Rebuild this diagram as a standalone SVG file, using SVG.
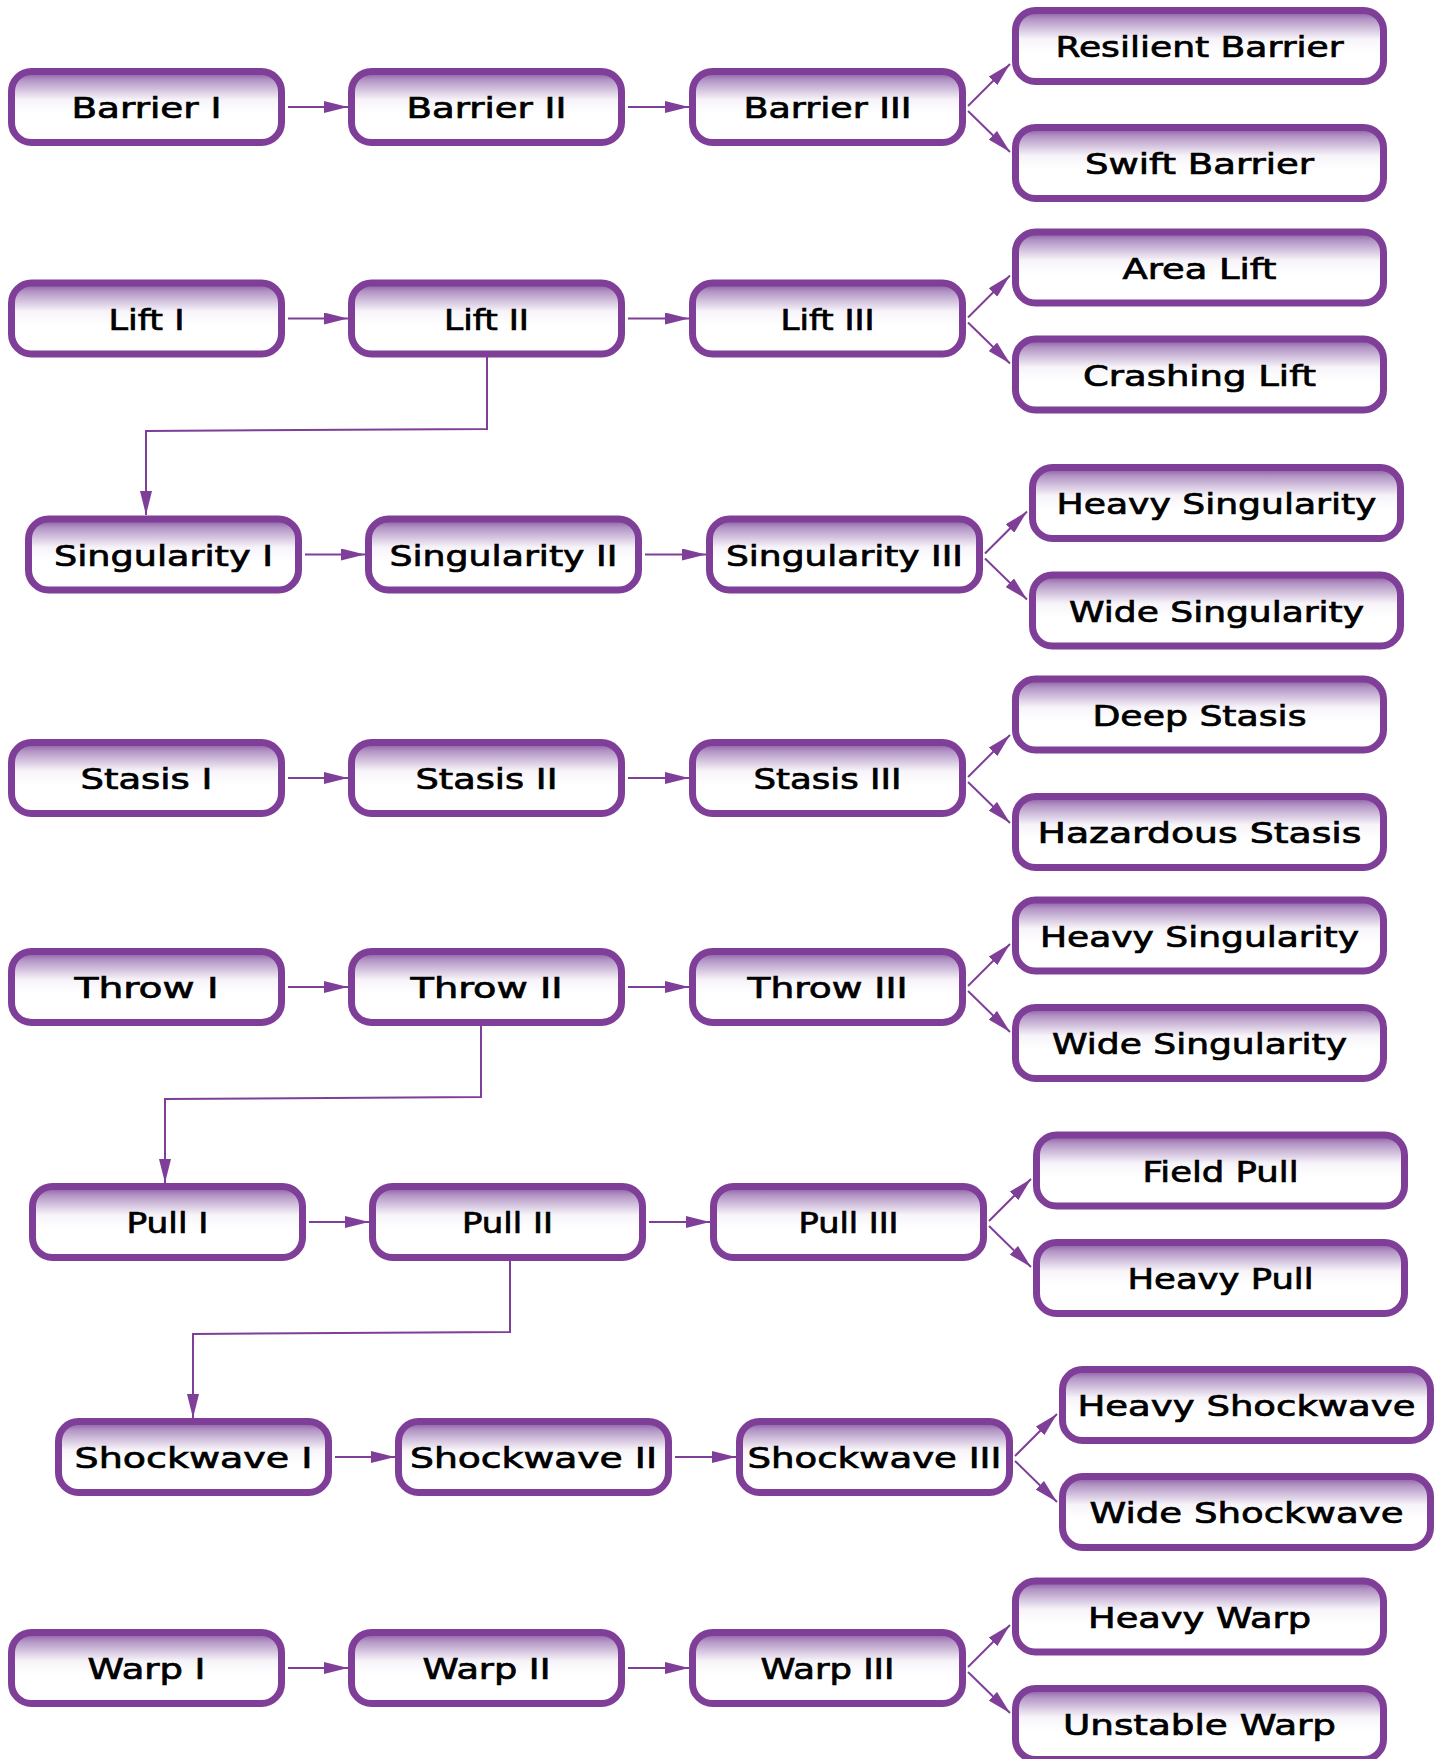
<svg xmlns="http://www.w3.org/2000/svg" width="1442" height="1759" viewBox="0 0 1442 1759">
<defs>
<linearGradient id="g" x1="0" y1="0" x2="0" y2="1">
<stop offset="0" stop-color="#86509f"/>
<stop offset="0.12" stop-color="#b294c4"/>
<stop offset="0.4" stop-color="#f7f4f9"/>
<stop offset="0.6" stop-color="#ffffff"/>
<stop offset="1" stop-color="#ffffff"/>
</linearGradient>
<marker id="ah" markerUnits="userSpaceOnUse" markerWidth="24" markerHeight="12" refX="24" refY="6" orient="auto">
<path d="M0,0 L24,6 L0,12 z" fill="#7f3f98"/>
</marker>
</defs>
<style>
rect.n{fill:url(#g);stroke:#7f3f98;stroke-width:7}
text{font-family:"DejaVu Sans","Liberation Sans",sans-serif;font-weight:normal;font-size:28px;fill:#000;stroke:#000;stroke-width:0.7;text-anchor:middle}
#edges path{fill:none;stroke:#7f3f98;stroke-width:2;marker-end:url(#ah)}
</style>
<rect width="1442" height="1759" fill="#ffffff"/>
<g id="edges">
<path d="M288,107 L348,107"/><path d="M628,107 L689,107"/><path d="M968,106 L1010,64"/><path d="M968,111 L1010,152"/>
<path d="M288,318.5 L348,318.5"/><path d="M628,318.5 L689,318.5"/><path d="M968,317.5 L1010,275.5"/><path d="M968,322.5 L1010,363.5"/>
<path d="M487,357 L487,429 L146,431 L146,515"/>
<path d="M305,554.5 L365,554.5"/><path d="M645,554.5 L706,554.5"/><path d="M985,553.5 L1027,511.5"/><path d="M985,558.5 L1027,599.5"/>
<path d="M288,778 L348,778"/><path d="M628,778 L689,778"/><path d="M968,777 L1010,735"/><path d="M968,782 L1010,823"/>
<path d="M288,987 L348,987"/><path d="M628,987 L689,987"/><path d="M968,986 L1010,944"/><path d="M968,991 L1010,1032"/>
<path d="M481,1026 L481,1097 L165,1099 L165,1183"/>
<path d="M309,1222 L369,1222"/><path d="M649,1222 L710,1222"/><path d="M989,1221 L1031,1179"/><path d="M989,1226 L1031,1267"/>
<path d="M510,1261 L510,1332 L193,1334 L193,1418"/>
<path d="M335,1457 L395,1457"/><path d="M675,1457 L736,1457"/><path d="M1015,1456 L1057,1414"/><path d="M1015,1461 L1057,1502"/>
<path d="M288,1668 L348,1668"/><path d="M628,1668 L689,1668"/><path d="M968,1667 L1010,1625"/><path d="M968,1672 L1010,1713"/>
</g>
<g id="barrier1"><rect class="n" x="11.5" y="71.5" width="270" height="71" rx="20"/><text x="146.5" y="118" textLength="150" lengthAdjust="spacingAndGlyphs">Barrier I</text></g>
<g id="barrier2"><rect class="n" x="351.5" y="71.5" width="270" height="71" rx="20"/><text x="486.5" y="118" textLength="160" lengthAdjust="spacingAndGlyphs">Barrier II</text></g>
<g id="barrier3"><rect class="n" x="692.5" y="71.5" width="270" height="71" rx="20"/><text x="827.5" y="118" textLength="168" lengthAdjust="spacingAndGlyphs">Barrier III</text></g>
<g id="resilient-barrier"><rect class="n" x="1015.5" y="10.5" width="368" height="71" rx="20"/><text x="1199.5" y="57" textLength="288" lengthAdjust="spacingAndGlyphs">Resilient Barrier</text></g>
<g id="swift-barrier"><rect class="n" x="1015.5" y="127.5" width="368" height="71" rx="20"/><text x="1199.5" y="174" textLength="229" lengthAdjust="spacingAndGlyphs">Swift Barrier</text></g>
<g id="lift1"><rect class="n" x="11.5" y="283" width="270" height="71" rx="20"/><text x="146.5" y="329.5" textLength="76" lengthAdjust="spacingAndGlyphs">Lift I</text></g>
<g id="lift2"><rect class="n" x="351.5" y="283" width="270" height="71" rx="20"/><text x="486.5" y="329.5" textLength="85" lengthAdjust="spacingAndGlyphs">Lift II</text></g>
<g id="lift3"><rect class="n" x="692.5" y="283" width="270" height="71" rx="20"/><text x="827.5" y="329.5" textLength="94" lengthAdjust="spacingAndGlyphs">Lift III</text></g>
<g id="area-lift"><rect class="n" x="1015.5" y="232" width="368" height="71" rx="20"/><text x="1199.5" y="278.5" textLength="154" lengthAdjust="spacingAndGlyphs">Area Lift</text></g>
<g id="crashing-lift"><rect class="n" x="1015.5" y="339" width="368" height="71" rx="20"/><text x="1199.5" y="385.5" textLength="233" lengthAdjust="spacingAndGlyphs">Crashing Lift</text></g>
<g id="singularity1"><rect class="n" x="28.5" y="519" width="270" height="71" rx="20"/><text x="163.5" y="565.5" textLength="219" lengthAdjust="spacingAndGlyphs">Singularity I</text></g>
<g id="singularity2"><rect class="n" x="368.5" y="519" width="270" height="71" rx="20"/><text x="503.5" y="565.5" textLength="228" lengthAdjust="spacingAndGlyphs">Singularity II</text></g>
<g id="singularity3"><rect class="n" x="709.5" y="519" width="270" height="71" rx="20"/><text x="844.5" y="565.5" textLength="237" lengthAdjust="spacingAndGlyphs">Singularity III</text></g>
<g id="heavy-singularity-a"><rect class="n" x="1032.5" y="467.5" width="368" height="71" rx="20"/><text x="1216.5" y="514" textLength="320" lengthAdjust="spacingAndGlyphs">Heavy Singularity</text></g>
<g id="wide-singularity-a"><rect class="n" x="1032.5" y="575" width="368" height="71" rx="20"/><text x="1216.5" y="621.5" textLength="295" lengthAdjust="spacingAndGlyphs">Wide Singularity</text></g>
<g id="stasis1"><rect class="n" x="11.5" y="742.5" width="270" height="71" rx="20"/><text x="146.5" y="789" textLength="132" lengthAdjust="spacingAndGlyphs">Stasis I</text></g>
<g id="stasis2"><rect class="n" x="351.5" y="742.5" width="270" height="71" rx="20"/><text x="486.5" y="789" textLength="142" lengthAdjust="spacingAndGlyphs">Stasis II</text></g>
<g id="stasis3"><rect class="n" x="692.5" y="742.5" width="270" height="71" rx="20"/><text x="827.5" y="789" textLength="148" lengthAdjust="spacingAndGlyphs">Stasis III</text></g>
<g id="deep-stasis"><rect class="n" x="1015.5" y="679" width="368" height="71" rx="20"/><text x="1199.5" y="725.5" textLength="214" lengthAdjust="spacingAndGlyphs">Deep Stasis</text></g>
<g id="hazardous-stasis"><rect class="n" x="1015.5" y="796.5" width="368" height="71" rx="20"/><text x="1199.5" y="843" textLength="324" lengthAdjust="spacingAndGlyphs">Hazardous Stasis</text></g>
<g id="throw1"><rect class="n" x="11.5" y="951.5" width="270" height="71" rx="20"/><text x="146.5" y="998" textLength="144" lengthAdjust="spacingAndGlyphs">Throw I</text></g>
<g id="throw2"><rect class="n" x="351.5" y="951.5" width="270" height="71" rx="20"/><text x="486.5" y="998" textLength="152" lengthAdjust="spacingAndGlyphs">Throw II</text></g>
<g id="throw3"><rect class="n" x="692.5" y="951.5" width="270" height="71" rx="20"/><text x="827.5" y="998" textLength="160" lengthAdjust="spacingAndGlyphs">Throw III</text></g>
<g id="heavy-singularity-b"><rect class="n" x="1015.5" y="900" width="368" height="71" rx="20"/><text x="1199.5" y="946.5" textLength="319" lengthAdjust="spacingAndGlyphs">Heavy Singularity</text></g>
<g id="wide-singularity-b"><rect class="n" x="1015.5" y="1007.5" width="368" height="71" rx="20"/><text x="1199.5" y="1054" textLength="295" lengthAdjust="spacingAndGlyphs">Wide Singularity</text></g>
<g id="pull1"><rect class="n" x="32.5" y="1186.5" width="270" height="71" rx="20"/><text x="167.5" y="1233" textLength="82" lengthAdjust="spacingAndGlyphs">Pull I</text></g>
<g id="pull2"><rect class="n" x="372.5" y="1186.5" width="270" height="71" rx="20"/><text x="507.5" y="1233" textLength="91" lengthAdjust="spacingAndGlyphs">Pull II</text></g>
<g id="pull3"><rect class="n" x="713.5" y="1186.5" width="270" height="71" rx="20"/><text x="848.5" y="1233" textLength="100" lengthAdjust="spacingAndGlyphs">Pull III</text></g>
<g id="field-pull"><rect class="n" x="1036.5" y="1135" width="368" height="71" rx="20"/><text x="1220.5" y="1181.5" textLength="156" lengthAdjust="spacingAndGlyphs">Field Pull</text></g>
<g id="heavy-pull"><rect class="n" x="1036.5" y="1242.5" width="368" height="71" rx="20"/><text x="1220.5" y="1289" textLength="186" lengthAdjust="spacingAndGlyphs">Heavy Pull</text></g>
<g id="shockwave1"><rect class="n" x="58.5" y="1421.5" width="270" height="71" rx="20"/><text x="193.5" y="1468" textLength="238" lengthAdjust="spacingAndGlyphs">Shockwave I</text></g>
<g id="shockwave2"><rect class="n" x="398.5" y="1421.5" width="270" height="71" rx="20"/><text x="533.5" y="1468" textLength="247" lengthAdjust="spacingAndGlyphs">Shockwave II</text></g>
<g id="shockwave3"><rect class="n" x="739.5" y="1421.5" width="270" height="71" rx="20"/><text x="874.5" y="1468" textLength="254" lengthAdjust="spacingAndGlyphs">Shockwave III</text></g>
<g id="heavy-shockwave"><rect class="n" x="1062.5" y="1369.5" width="368" height="71" rx="20"/><text x="1246.5" y="1416" textLength="338" lengthAdjust="spacingAndGlyphs">Heavy Shockwave</text></g>
<g id="wide-shockwave"><rect class="n" x="1062.5" y="1476.5" width="368" height="71" rx="20"/><text x="1246.5" y="1523" textLength="314" lengthAdjust="spacingAndGlyphs">Wide Shockwave</text></g>
<g id="warp1"><rect class="n" x="11.5" y="1632.5" width="270" height="71" rx="20"/><text x="146.5" y="1679" textLength="118" lengthAdjust="spacingAndGlyphs">Warp I</text></g>
<g id="warp2"><rect class="n" x="351.5" y="1632.5" width="270" height="71" rx="20"/><text x="486.5" y="1679" textLength="128" lengthAdjust="spacingAndGlyphs">Warp II</text></g>
<g id="warp3"><rect class="n" x="692.5" y="1632.5" width="270" height="71" rx="20"/><text x="827.5" y="1679" textLength="134" lengthAdjust="spacingAndGlyphs">Warp III</text></g>
<g id="heavy-warp"><rect class="n" x="1015.5" y="1581" width="368" height="71" rx="20"/><text x="1199.5" y="1627.5" textLength="223" lengthAdjust="spacingAndGlyphs">Heavy Warp</text></g>
<g id="unstable-warp"><rect class="n" x="1015.5" y="1688.5" width="368" height="71" rx="20"/><text x="1199.5" y="1735" textLength="273" lengthAdjust="spacingAndGlyphs">Unstable Warp</text></g>
</svg>
